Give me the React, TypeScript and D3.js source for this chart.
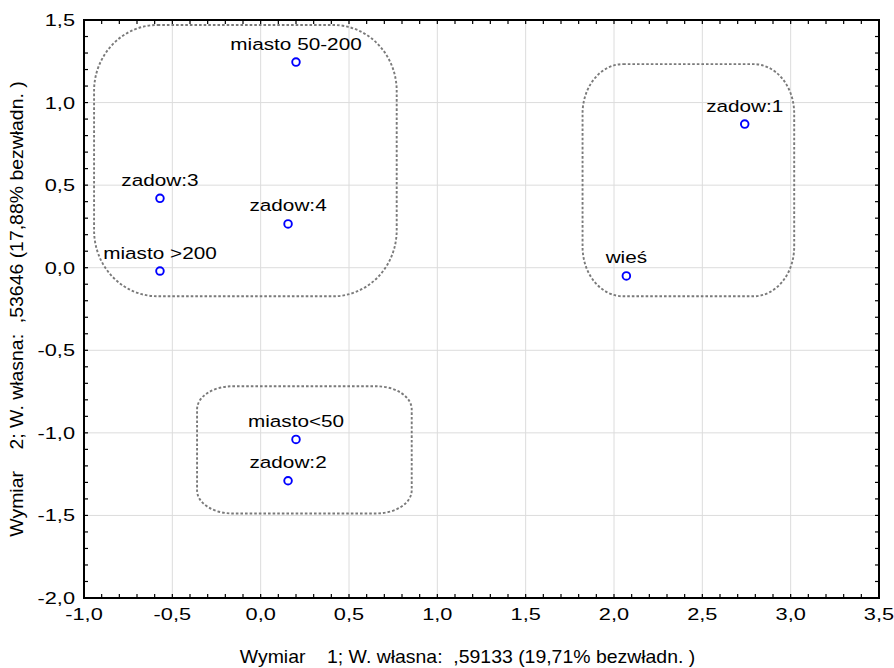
import React from 'react';
import * as d3 from 'd3';

// category points (coordinates on both dimensions)
const labels = ['miasto 50-200', 'zadow:3', 'zadow:4', 'miasto >200', 'zadow:1', 'wieś', 'miasto<50', 'zadow:2'];
const dim1 = [0.2, -0.57, 0.155, -0.57, 2.74, 2.07, 0.2, 0.155];
const dim2 = [1.245, 0.42, 0.265, -0.02, 0.87, -0.05, -1.04, -1.29];

// hand drawn groupings (data units)
const groupX0 = [-0.943, 1.822, -0.36];
const groupX1 = [0.77, 3.02, 0.855];
const groupY0 = [-0.173, -0.173, -1.488];
const groupY1 = [1.47, 1.233, -0.718];
const groupRx = [0.36, 0.23, 0.2];
const groupRy = [0.4, 0.3, 0.14];

const xTicks = [-1, -0.5, 0, 0.5, 1, 1.5, 2, 2.5, 3, 3.5];
const yTicks = [-2, -1.5, -1, -0.5, 0, 0.5, 1, 1.5];

const xTitle = 'Wymiar    1; W. własna:  ,59133 (19,71% bezwładn. )';
const yTitle = 'Wymiar    2; W. własna:  ,53646 (17,88% bezwładn. )';

const W = 894;
const H = 668;
const margin = { top: 20, right: 15, bottom: 70, left: 84 };
const font = '"Liberation Sans", Arial, sans-serif';

const fmt = (v: number) => d3.format('.1f')(v).replace('.', ',').replace('−', '-');

export default function App() {
  const x = d3.scaleLinear().domain([-1, 3.5]).range([margin.left, W - margin.right]);
  const y = d3.scaleLinear().domain([-2, 1.5]).range([H - margin.bottom, margin.top]);
  const [x0, x1] = x.range();
  const [y0, y1] = [y(1.5), y(-2)];

  const minorX = d3.range(-1, 3.5001, 0.1);
  const minorY = d3.range(-2, 1.5001, 0.1);

  const groupPath = (i: number) => {
    const l = x(groupX0[i]), r = x(groupX1[i]);
    const t = y(groupY1[i]), b = y(groupY0[i]);
    const rx = x(groupX0[i] + groupRx[i]) - l;
    const ry = y(groupY1[i] - groupRy[i]) - t;
    return `M${l + rx},${t} L${r - rx},${t} A${rx},${ry} 0 0 1 ${r},${t + ry} L${r},${b - ry} A${rx},${ry} 0 0 1 ${r - rx},${b} L${l + rx},${b} A${rx},${ry} 0 0 1 ${l},${b - ry} L${l},${t + ry} A${rx},${ry} 0 0 1 ${l + rx},${t} Z`;
  };

  return (
    <svg width={W} height={H} style={{ position: 'absolute', left: 0, top: 0, background: '#fff' }} fontFamily={font}>
      {/* grid */}
      {xTicks.map((t) => (
        <line key={'gx' + t} x1={x(t)} x2={x(t)} y1={y0} y2={y1} stroke="#dcdcdc" strokeWidth={1} />
      ))}
      {yTicks.map((t) => (
        <line key={'gy' + t} x1={x0} x2={x1} y1={y(t)} y2={y(t)} stroke="#dcdcdc" strokeWidth={1} />
      ))}

      {/* groupings */}
      {groupX0.map((_, i) => (
        <path key={'g' + i} d={groupPath(i)} fill="none" stroke="#7a7a7a" strokeWidth={1.9} strokeDasharray="2.6,2" />
      ))}

      {/* points */}
      {labels.map((lab, i) => (
        <g key={lab}>
          <circle cx={x(dim1[i])} cy={y(dim2[i])} r={3.8} fill="#fff" stroke="#0000ff" strokeWidth={1.9} />
          <text
            transform={`translate(${x(dim1[i])},${y(dim2[i]) - 12.5}) scale(1.22,1)`}
            textAnchor="middle"
            fontSize={17}
            fill="#000"
          >
            {lab}
          </text>
        </g>
      ))}

      {/* frame with inward ticks */}
      {minorX.map((t) => (
        <g key={'tx' + t}>
          <line x1={x(t)} x2={x(t)} y1={y1} y2={y1 - 4} stroke="#000" strokeWidth={1.2} />
          <line x1={x(t)} x2={x(t)} y1={y0} y2={y0 + 4} stroke="#000" strokeWidth={1.2} />
        </g>
      ))}
      {minorY.map((t) => (
        <g key={'ty' + t}>
          <line x1={x0} x2={x0 + 4} y1={y(t)} y2={y(t)} stroke="#000" strokeWidth={1.2} />
          <line x1={x1} x2={x1 - 4} y1={y(t)} y2={y(t)} stroke="#000" strokeWidth={1.2} />
        </g>
      ))}
      <rect x={x0} y={y0} width={x1 - x0} height={y1 - y0} fill="none" stroke="#000" strokeWidth={2} />

      {/* tick labels */}
      {xTicks.map((t) => (
        <text key={'lx' + t} transform={`translate(${x(t)},${y1 + 22}) scale(1.32,1)`} textAnchor="middle" fontSize={16.5} fill="#000">
          {fmt(t)}
        </text>
      ))}
      {yTicks.map((t) => (
        <text key={'ly' + t} transform={`translate(${x0 - 9},${y(t) + 6}) scale(1.32,1)`} textAnchor="end" fontSize={16.5} fill="#000">
          {fmt(t)}
        </text>
      ))}

      {/* axis titles */}
      <text
        transform={`translate(${(x0 + x1) / 2 - 14},${H - 5}) scale(1.08,1)`}
        textAnchor="middle"
        fontSize={18}
        style={{ whiteSpace: 'pre' }}
        fill="#000"
      >
        {xTitle}
      </text>
      <text
        transform={`translate(23,${(y0 + y1) / 2}) rotate(-90) scale(1.08,1)`}
        textAnchor="middle"
        fontSize={18}
        style={{ whiteSpace: 'pre' }}
        fill="#000"
      >
        {yTitle}
      </text>
    </svg>
  );
}
